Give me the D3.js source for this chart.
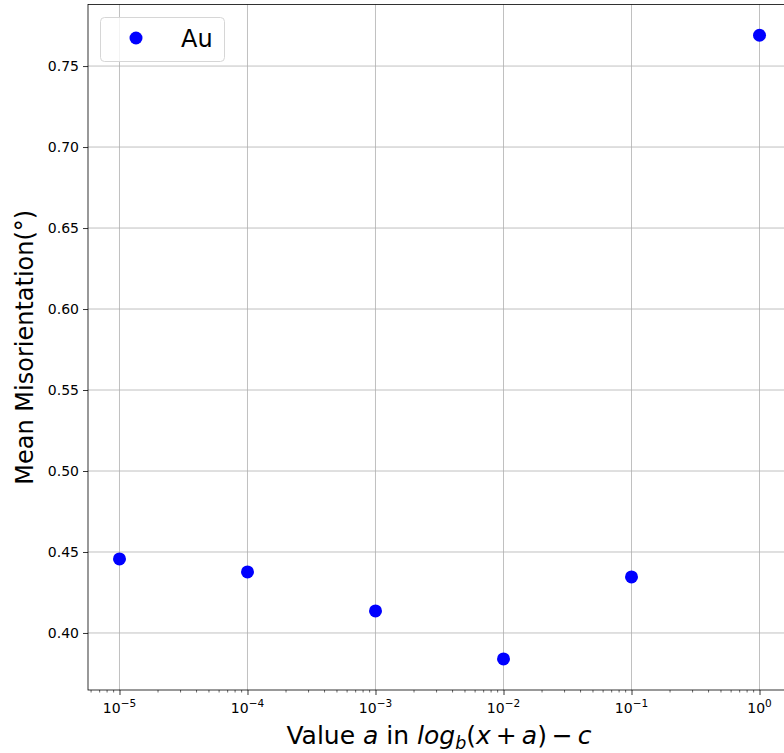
<!DOCTYPE html>
<html>
<head>
<meta charset="utf-8">
<script src="https://cdn.jsdelivr.net/npm/d3@7"></script>
<style>
  body { margin: 0; background: #fff; }
  svg { display: block; font-family: "DejaVu Sans", sans-serif; overflow: hidden; }
</style>
</head>
<body>
<svg></svg>
<script>
let aValues = [1e-5, 1e-4, 1e-3, 1e-2, 1e-1, 1];
let misorientation = [0.4457, 0.4377, 0.4136, 0.3840, 0.4346, 0.7690];
let seriesName = "Au";
let yTicks = [0.40, 0.45, 0.50, 0.55, 0.60, 0.65, 0.70, 0.75];
let xTicks = [1e-5, 1e-4, 1e-3, 1e-2, 1e-1, 1];

let width = 784;
let height = 753;
let padLeft = 88, padRight = 791, padTop = 4.5, padBottom = 690;

let svg = d3.select("svg").attr("width", width).attr("height", height);

let xScale = d3.scaleLog()
  .domain([Math.pow(10, -5.246), Math.pow(10, 0.246)])
  .range([padLeft, padRight]);
let yScale = d3.scaleLinear()
  .domain([0.3648, 0.788])
  .range([padBottom, padTop]);

// grid
svg.append("g").selectAll("line").data(xTicks).enter().append("line")
  .attr("x1", d => xScale(d)).attr("x2", d => xScale(d))
  .attr("y1", padTop).attr("y2", padBottom)
  .attr("stroke", "#b0b0b0").attr("stroke-width", 0.8);
svg.append("g").selectAll("line").data(yTicks).enter().append("line")
  .attr("x1", padLeft).attr("x2", padRight)
  .attr("y1", d => yScale(d)).attr("y2", d => yScale(d))
  .attr("stroke", "#b0b0b0").attr("stroke-width", 0.8);

// x axis major ticks
let xAxis = d3.axisBottom(xScale).tickValues(xTicks).tickSize(5).tickFormat(d => "");
let gx = svg.append("g")
  .attr("transform", "translate(0," + padBottom + ")")
  .call(xAxis);
gx.select(".domain").remove();
gx.selectAll(".tick line").attr("stroke", "#000").attr("stroke-width", 0.8);

// tick labels as 10 with superscript
xTicks.forEach(d => {
  let e = Math.round(Math.log10(d));
  let t = svg.append("text")
    .attr("x", xScale(d)).attr("y", padBottom + 23)
    .attr("text-anchor", "middle").attr("font-size", 14).attr("fill", "#000");
  t.append("tspan").text("10");
  t.append("tspan").attr("dy", -6).attr("font-size", 10.5).text(e < 0 ? "\u2212" + (-e) : "" + e);
});

// minor ticks
let minor = [];
for (let e = -6; e <= 0; e++) {
  for (let m = 2; m <= 9; m++) {
    let v = m * Math.pow(10, e);
    if (v > xScale.domain()[0] && v < xScale.domain()[1]) minor.push(v);
  }
}
svg.append("g").selectAll("line").data(minor).enter().append("line")
  .attr("x1", d => xScale(d)).attr("x2", d => xScale(d))
  .attr("y1", padBottom).attr("y2", padBottom + 2.5)
  .attr("stroke", "#000").attr("stroke-width", 0.6);

let yAxis = d3.axisLeft(yScale).tickValues(yTicks).tickSize(5).tickPadding(4)
  .tickFormat(d3.format(".2f"));
let gy = svg.append("g")
  .attr("transform", "translate(" + padLeft + ",0)")
  .call(yAxis);
gy.select(".domain").remove();
gy.selectAll(".tick line").attr("stroke", "#000").attr("stroke-width", 0.8);
gy.selectAll(".tick text").attr("font-size", 14).attr("fill", "#000")
  .attr("font-family", "DejaVu Sans, sans-serif");

// frame
svg.append("rect")
  .attr("x", padLeft).attr("y", padTop)
  .attr("width", padRight - padLeft).attr("height", padBottom - padTop)
  .attr("fill", "none").attr("stroke", "#000").attr("stroke-width", 0.8);

// points
svg.append("g").selectAll("circle").data(aValues).enter().append("circle")
  .attr("cx", d => xScale(d))
  .attr("cy", (d, i) => yScale(misorientation[i]))
  .attr("r", 6.5)
  .attr("fill", "#0000ff");

// legend
let lg = svg.append("g");
lg.append("rect")
  .attr("x", 100.5).attr("y", 17.5).attr("width", 124).attr("height", 44).attr("rx", 4)
  .attr("fill", "#fff").attr("fill-opacity", 0.8)
  .attr("stroke", "#d6d6d6").attr("stroke-width", 1);
lg.append("circle").attr("cx", 136).attr("cy", 38).attr("r", 6.5).attr("fill", "#0000ff");
lg.append("text").attr("x", 181).attr("y", 47).attr("font-size", 24).attr("fill", "#000").text(seriesName);

// axis labels
svg.append("text")
  .attr("transform", "translate(33," + ((padTop + padBottom) / 2) + ") rotate(-90)")
  .attr("text-anchor", "middle").attr("font-size", 24).attr("fill", "#000")
  .text("Mean Misorientation(\u00b0)");

let xl = svg.append("text")
  .attr("x", 439).attr("y", 744)
  .attr("text-anchor", "middle").attr("font-size", 25).attr("fill", "#000");
xl.append("tspan").text("Value ");
xl.append("tspan").attr("font-style", "italic").text("a");
xl.append("tspan").text(" in ");
xl.append("tspan").attr("font-style", "italic").text("log");
xl.append("tspan").attr("font-style", "italic").attr("font-size", 17.5).attr("dy", 5).text("b");
xl.append("tspan").attr("dy", -5).text("(");
xl.append("tspan").attr("font-style", "italic").text("x");
xl.append("tspan").text("\u2009+\u2009");
xl.append("tspan").attr("font-style", "italic").text("a");
xl.append("tspan").text(")\u2009\u2212\u2009");
xl.append("tspan").attr("font-style", "italic").text("c");
</script>
</body>
</html>
